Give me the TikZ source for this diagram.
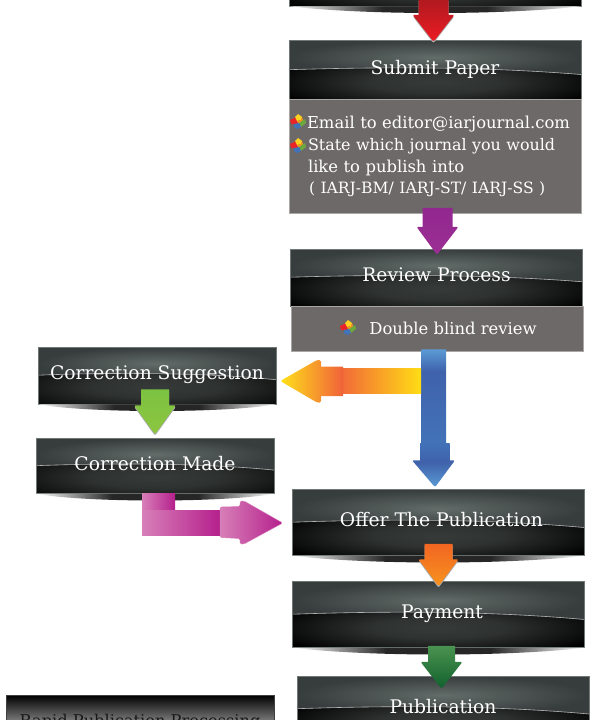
\documentclass[tikz,border=0pt]{standalone}
\usepackage{fontspec}
\setmainfont{DejaVu Serif}
\usepackage{xcolor}
\usetikzlibrary{positioning,calc}
\definecolor{glossTop}{HTML}{626C69}
\definecolor{glossEdge}{HTML}{373C3C}
\definecolor{panelMid}{HTML}{363B39}
\definecolor{panelLine}{HTML}{6F7875}
\definecolor{infoGrey}{HTML}{6D6968}
\definecolor{infoLine}{HTML}{A9A7A6}
\definecolor{blueLight}{HTML}{5B9BD5}
\definecolor{blueDeep}{HTML}{3F62AB}
\definecolor{blueMid}{HTML}{4272B8}
\definecolor{redDark}{HTML}{B0191F}
\definecolor{redBright}{HTML}{ED1C24}
\definecolor{purpleArrow}{HTML}{92278F}
\definecolor{purpleTip}{HTML}{9B2F95}
\definecolor{limeTop}{HTML}{7CC242}
\definecolor{limeMid}{HTML}{4DB848}
\definecolor{limeTip}{HTML}{8DC63F}
\definecolor{flameTop}{HTML}{F26522}
\definecolor{flameMid}{HTML}{EF4E23}
\definecolor{flameTip}{HTML}{F7941E}
\definecolor{pineTop}{HTML}{4A9350}
\definecolor{pineTip}{HTML}{11602D}
\definecolor{amberOne}{HTML}{FFE11A}
\definecolor{amberTwo}{HTML}{FBA91F}
\definecolor{amberThree}{HTML}{F0623A}
\definecolor{shaftLeft}{HTML}{F26B38}
\definecolor{shaftMid}{HTML}{F79A2B}
\definecolor{shaftRight}{HTML}{FFDD15}
\definecolor{pinkLight}{HTML}{D77FB8}
\definecolor{pinkDeep}{HTML}{B5208C}
\definecolor{cubeRed}{HTML}{E8262A}
\definecolor{cubeYellow}{HTML}{FFD21F}
\definecolor{cubeOrange}{HTML}{F7941E}
\definecolor{cubeGreen}{HTML}{6DA83F}
\pgfdeclareverticalshading{bluefade}{100bp}{color(0bp)=(blueLight); color(25bp)=(blueLight); color(34bp)=(blueDeep); color(42bp)=(blueMid); color(67bp)=(blueDeep); color(75bp)=(blueLight); color(100bp)=(blueLight)}
\pgfdeclarehorizontalshading{lensfade}{100bp}{color(0bp)=(white); color(25bp)=(white); color(41bp)=(black!85); color(59bp)=(black!85); color(75bp)=(white); color(100bp)=(white)}
\pgfdeclareradialshading{panelglow}{\pgfpoint{0bp}{0bp}}{color(0bp)=(panelMid); color(9bp)=(panelMid!85!black); color(18bp)=(panelMid!40!black); color(25bp)=(black); color(50bp)=(black)}
\newcommand{\panelshadow}[1]{%
  \shade[shading=lensfade]
    (#1.south west) .. controls ($(#1.south)+(-70,9)$) and ($(#1.south)+(70,9)$) .. (#1.south east) -- cycle;}
% tail, tip, half shaft, half head, head length
\newcommand{\blockdown}[6][]{%
  \path[#1] let \p1=(#2), \p2=(#3) in
    (\x1-#4pt,\y1) -- (\x1+#4pt,\y1) -- (\x1+#4pt,\y2+#6pt)
    [rounded corners=2pt] -- (\x1+#5pt,\y2+#6pt) -- (\x2,\y2) -- (\x1-#5pt,\y2+#6pt) [sharp corners] -- (\x1-#4pt,\y2+#6pt) -- cycle;}
\begin{document}
\begin{tikzpicture}[x=1pt,y=-1pt,
    panel/.style={rectangle, draw=panelLine, line width=.5pt, minimum width=292pt, text=white, inner sep=0pt,
      font=\fontsize{18.7}{22}\selectfont, text depth=6pt,
      path picture={
        \coordinate (pnw) at (path picture bounding box.north west);
        \coordinate (pne) at (path picture bounding box.north east);
        \coordinate (psw) at (path picture bounding box.south west);
        \coordinate (pse) at (path picture bounding box.south east);
        \coordinate (pn) at (path picture bounding box.north);
        \coordinate (ps) at (path picture bounding box.south);
        \coordinate (pl) at ($(pnw)!.5!(psw)$);
        \coordinate (pm) at ($(pn)!.45!(ps)$);
        \coordinate (pr) at ($(pne)!.58!(pse)$);
        \fill[black] (pnw) rectangle (pse);
        \shade[shading=panelglow] ($(pn)!.7!(ps)$) ellipse (175 and 30);
        \shade[inner color=glossTop, outer color=glossEdge]
          (pnw) -- (pne) -- (pr) .. controls ($(pm)+(50,0)$) and ($(pm)+(-50,0)$) .. (pl) -- cycle;
        \shade[left color=gray!60, middle color=glossEdge, right color=gray!60]
          (pr) .. controls ($(pm)+(50,0)$) and ($(pm)+(-50,0)$) .. (pl) -- ++(0,-.6)
          .. controls ($(pm)+(-50,-.6)$) and ($(pm)+(50,-.6)$) .. ($(pr)+(0,-.6)$) -- cycle;
      }},
    infobox/.style={rectangle, draw=infoLine, fill=infoGrey, line width=.5pt, minimum width=292pt, text=white, inner sep=0pt},
    rapidbox/.style={rectangle, top color=black, middle color=black!35, bottom color=white, draw=gray!50!black, line width=.3pt, minimum width=268pt, minimum height=54pt,
      text=black!90, inner sep=0pt, font=\fontsize{16.2}{20}\selectfont},
    tipshadow/.style={preaction={fill=gray!65, transform canvas={yshift=-1.5pt}}},
    cubes/.pic={
      \fill[cubeRed] (-8,-1) -- (-2,-4) -- (0,0) -- (-1,3) -- (-7,3) -- cycle;
      \fill[cubeYellow] (0,-7) -- (4,-4) -- (3,-1) -- (-1,0) -- (-3,-4) -- cycle;
      \fill[cubeOrange] (-1,0) -- (3,-1) -- (4,-4) -- (5,-1) -- (1,3) -- cycle;
      \fill[cubeGreen] (1,2) -- (7,-2) -- (8,2) -- (3,6) -- cycle;
      \fill[blueMid] (-4,3) -- (1,2) -- (3,6) -- (-1,8) -- (-4,6) -- cycle;
    }
]
    \useasboundingbox (0,0) rectangle (595,720);
    \clip (0,0) rectangle (595,720);

    \node[panel, minimum height=60pt] (intro) at (435,-24) {};
    \node[panel, minimum height=60pt] (submit) at (435,70) {Submit Paper};
    \node[panel, minimum height=57pt] (review) at (436.5,277.5) {Review Process};
    \node[panel, minimum width=238pt, minimum height=57pt] (suggestion) at (157,375.5) {Correction Suggestion};
    \node[panel, minimum width=238pt, minimum height=55pt] (made) at (155,466) {Correction Made};
    \node[panel, minimum height=66pt] (offer) at (438,522.5) {\hspace*{7pt}Offer The Publication};
    \node[panel, minimum height=66pt] (payment) at (438.5,614.5) {\hspace*{7pt}Payment};
    \node[panel, minimum height=66pt] (publication) at (443,709) {Publication};
    \node[rapidbox] (rapid) at (140,722) {Rapid Publication Processing};

    \foreach \n in {intro,submit,suggestion,made,offer,payment}
      \panelshadow{\n};

    \node[infobox, minimum height=114pt, text width=276pt, align=left, font=\fontsize{16.4}{21.7}\selectfont] (submitinfo) at (435,156.7)
      {\hspace*{10pt}Email to editor@iarjournal.com\\ \hspace*{11pt}{\fontsize{15.9}{21.7}\selectfont State which journal you would}\\ \hspace*{11pt}like to publish into\\ \hspace*{12pt}{\fontsize{15.6}{21.7}\selectfont ( IARJ-BM/ IARJ-ST/ IARJ-SS )}};
    \node[infobox, minimum height=45pt, font=\fontsize{16.4}{20}\selectfont] (reviewinfo) at (437,328.5) {\hspace*{32pt}Double blind review};

    \pic at (298,121) {cubes};
    \pic at (298,145) {cubes};
    \pic at (348,327) {cubes};

    % arrows
    \blockdown[tipshadow, shade, top color=redDark, bottom color=redBright]{$(intro.south)+(-1.5,-7)$}{$(submit.north)+(-1.5,2)$}{15}{21}{27}
    \blockdown[shade, top color=purpleArrow, bottom color=purpleTip]{$(submitinfo.south)+(2.5,-6)$}{$(review.north)+(.5,6)$}{15}{21}{28}
    \blockdown[tipshadow, shade, top color=limeTop, middle color=limeMid, bottom color=limeTip]{$(suggestion.south)+(-2,-15)$}{$(made.north)+(0,-4)$}{14}{21}{29}
    \blockdown[tipshadow, shade, top color=flameTop, middle color=flameMid, bottom color=flameTip]{$(offer.south)+(.5,-12)$}{$(payment.north)+(0,5)$}{14}{20}{27}
    \blockdown[shade, top color=pineTop, bottom color=pineTip]{$(payment.south)+(3,-2)$}{$(publication.north)+(-1.5,13)$}{13.5}{21}{27}

    \blockdown[shading=bluefade]{$(reviewinfo.south)+(-3.5,-2)$}{$(offer.north)+(-3,-2)$}{12.5}{21.5}{27}
    \shade[top color=blueMid, bottom color=blueDeep] ($(reviewinfo.south)+(-17,92)$) rectangle ($(reviewinfo.south)+(12.5,110)$);

    % orange arrow to the left
    \coordinate (blueside) at ($(reviewinfo.south)+(-16,30)$);
    \coordinate (orangetip) at ($(suggestion.east)+(4,5.5)$);
    \shade[left color=shaftLeft, middle color=shaftMid, right color=shaftRight] ($(blueside)+(0,-12.5)$) rectangle ($(blueside)+(-78.5,12.5)$);
    \shade[left color=amberOne, middle color=amberTwo, right color=amberThree, rounded corners=1.5pt] (orangetip) -- (317,360) -- (321,360) [sharp corners] -- (321,366.5) -- (343,366.5) -- (343,396) -- (321,396) [rounded corners=1.5pt] -- (321,402.5) -- (317,402.5) -- cycle;

    % magenta elbow
    \coordinate (elbowstart) at ($(made.south)+(3,0)$);
    \coordinate (elbowtip) at ($(offer.west)+(-9,.5)$);
    \shade[left color=pinkLight, right color=pinkDeep] ($(elbowstart)+(-16,0)$) rectangle ($(elbowstart)+(17,17)$);
    \shade[left color=pinkLight, right color=pinkDeep] ($(elbowstart)+(-16,17)$) rectangle ($(elbowstart)+(62,42)$);
    \shade[left color=pinkLight, right color=pinkDeep, rounded corners=1.5pt, draw=pinkLight, line width=.4pt]
      (220,507) -- (240,506.5) -- (240,501) -- (244,501) -- (elbowtip) -- (244,544) -- (240,544) -- (240,538.5) -- (220,537.5) -- cycle;
\end{tikzpicture}
\end{document}
